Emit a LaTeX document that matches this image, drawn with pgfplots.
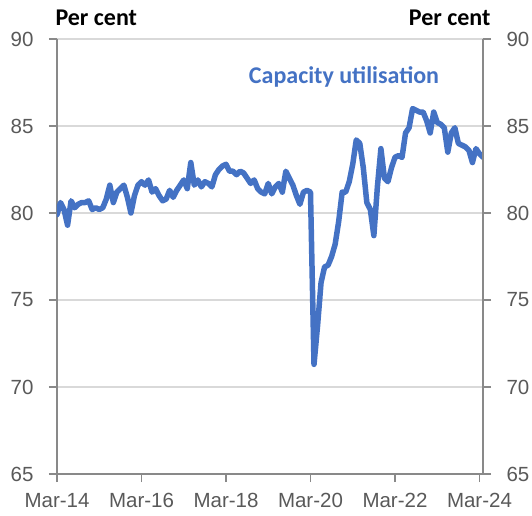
\documentclass[border=0pt]{standalone}
\usepackage{fontspec}
\setmainfont{Liberation Sans}
\newfontfamily\calibri{Carlito}
\usepackage{pgfplots}
\usepackage{pgfplotstable}
\pgfplotsset{compat=1.18}
\definecolor{cublue}{RGB}{68,114,196}
\definecolor{axgray}{RGB}{137,137,137}
\definecolor{gridgray}{RGB}{217,217,217}
\definecolor{labgray}{RGB}{89,89,89}
\pgfplotstableread{
m v
0 79.9
1 80.6
2 80.2
3 79.3
4 80.7
5 80.3
6 80.5
7 80.6
8 80.6
9 80.7
10 80.2
11 80.3
12 80.2
13 80.3
14 80.8
15 81.6
16 80.6
17 81.2
18 81.4
19 81.6
20 80.9
21 80.0
22 81.0
23 81.6
24 81.8
25 81.6
26 81.9
27 81.2
28 81.4
29 81.0
30 80.7
31 80.8
32 81.3
33 80.9
34 81.3
35 81.6
36 81.9
37 81.4
38 82.9
39 81.6
40 81.9
41 81.5
42 81.8
43 81.7
44 81.5
45 82.2
46 82.5
47 82.7
48 82.8
49 82.4
50 82.4
51 82.2
52 82.4
53 82.3
54 82.0
55 81.7
56 81.9
57 81.4
58 81.2
59 81.1
60 81.7
61 81.1
62 81.5
63 81.7
64 81.2
65 82.4
66 82.0
67 81.6
68 81.0
69 80.5
70 81.2
71 81.3
72 81.2
73 71.3
74 73.5
75 76.0
76 76.9
77 77.0
78 77.5
79 78.2
80 79.5
81 81.2
82 81.2
83 81.8
84 82.8
85 84.2
86 84.0
87 82.6
88 80.6
89 80.2
90 78.7
91 81.5
92 83.7
93 82.0
94 81.8
95 82.6
96 83.2
97 83.3
98 83.2
99 84.6
100 84.9
101 86.0
102 85.9
103 85.8
104 85.8
105 85.3
106 84.6
107 85.8
108 85.2
109 85.1
110 84.9
111 83.5
112 84.6
113 84.9
114 84.0
115 83.9
116 83.8
117 83.6
118 82.9
119 83.7
120 83.4
121 83.2
}\cudata
\begin{document}
\begin{tikzpicture}
\useasboundingbox (-57bp,-42bp) rectangle (475bp,474bp);
\pgfplotsset{common/.style={
  scale only axis, width=426bp, height=435bp,
  at={(0,0)}, anchor=south west,
  xmin=0, xmax=121, ymin=65, ymax=90,
  ytick={65,70,...,90},
  tick align=outside, major tick length=8bp,
  axis line style={axgray, line width=1.3bp},
  tick style={axgray, line width=1.3bp},
  ticklabel style={font=\fontsize{20.5bp}{24bp}\selectfont, text=labgray},
  /pgf/number format/assume math mode=true,
}}
\begin{axis}[common,
  axis x line*=bottom, axis y line*=left,
  ymajorgrids, grid style={gridgray, line width=1.3bp},
  xtick={0,24,...,120},
  xticklabels={Mar-14,Mar-16,Mar-18,Mar-20,Mar-22,Mar-24},
  yticklabel style={xshift=-12bp},
  xticklabel style={yshift=-8bp},
]
\addplot[cublue, line width=5.5bp, line join=round, line cap=round] table[x=m,y=v] {\cudata};
\end{axis}
\begin{axis}[common,
  axis y line*=right, axis x line=none,
  yticklabel style={xshift=12bp},
]
\end{axis}
\node[anchor=base west, font=\calibri\bfseries\fontsize{24bp}{28bp}\selectfont] at (-5bp,448bp) {Per cent};
\node[anchor=base east, font=\calibri\bfseries\fontsize{24bp}{28bp}\selectfont] at (437bp,448bp) {Per cent};
\node[anchor=base, text=cublue, font=\calibri\bfseries\fontsize{24bp}{28bp}\selectfont] at (287bp,390bp) {Capacity utilisation};
\end{tikzpicture}
\end{document}
